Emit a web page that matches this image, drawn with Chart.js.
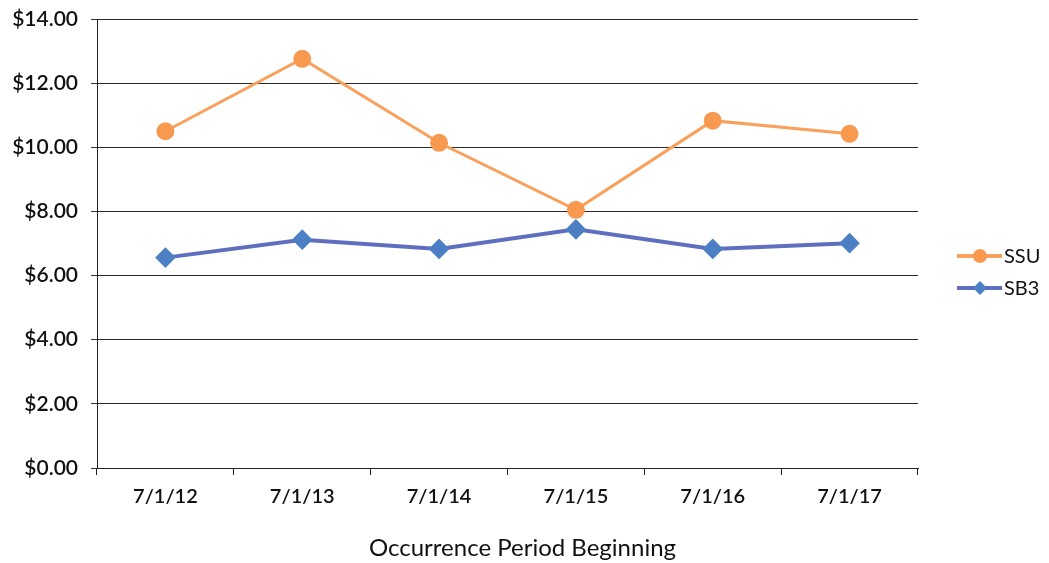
<!DOCTYPE html>
<html>
<head>
<meta charset="utf-8">
<script src="https://cdn.jsdelivr.net/npm/chart.js@4.4.1/dist/chart.umd.min.js"></script>
<style>
  html, body { margin: 0; padding: 0; background: #fff; }
  #wrap { width: 1049px; height: 563px; position: relative; }
</style>
</head>
<body>
<div id="wrap"><canvas id="chart" width="1049" height="563"></canvas></div>
<script>
// 데이터
const categories = ['7/1/12', '7/1/13', '7/1/14', '7/1/15', '7/1/16', '7/1/17'];
const ssuValues = [10.50, 12.76, 10.14, 8.05, 10.83, 10.42];
const sb3Values = [6.56, 7.12, 6.83, 7.44, 6.83, 7.01];
const seriesNames = ['SSU', 'SB3'];
const axisTitle = 'Occurrence Period Beginning';

const FONT = 'Lato, "Open Sans", sans-serif';

// 오른쪽 범례: 선 + 마커
const sideLegend = {
  id: 'sideLegend',
  afterDraw(chart) {
    const ctx = chart.ctx;
    const items = [[256, 0], [288, 1]];
    items.forEach(function (it) {
      const y = it[0];
      const ds = chart.data.datasets[it[1]];
      const mx = 980;
      ctx.save();
      ctx.strokeStyle = ds.borderColor;
      ctx.lineWidth = 4;
      ctx.beginPath();
      ctx.moveTo(957, y);
      ctx.lineTo(1002, y);
      ctx.stroke();
      ctx.fillStyle = ds.pointBackgroundColor;
      ctx.beginPath();
      if (ds.pointStyle === 'rectRot') {
        ctx.moveTo(mx, y - 7);
        ctx.lineTo(mx + 7, y);
        ctx.lineTo(mx, y + 7);
        ctx.lineTo(mx - 7, y);
        ctx.closePath();
      } else {
        ctx.arc(mx, y, 7, 0, Math.PI * 2);
      }
      ctx.fill();
      ctx.fillStyle = '#111';
      ctx.font = '20px ' + FONT;
      ctx.textBaseline = 'middle';
      ctx.fillText(ds.label, 1004, y + 1);
      ctx.restore();
    });
  }
};

const ctx = document.getElementById('chart').getContext('2d');
const chart = new Chart(ctx, {
  type: 'line',
  data: {
    labels: categories,
    datasets: [
      {
        label: seriesNames[0],
        data: ssuValues,
        borderColor: '#F9A15C',
        backgroundColor: '#F9A15C',
        pointBackgroundColor: '#F79A50',
        pointBorderColor: '#F79A50',
        pointStyle: 'circle',
        pointRadius: 7.5,
        borderWidth: 3,
        tension: 0
      },
      {
        label: seriesNames[1],
        data: sb3Values,
        borderColor: '#5F6FC0',
        backgroundColor: '#5F6FC0',
        pointBackgroundColor: '#4C7FC4',
        pointBorderColor: '#4C7FC4',
        pointStyle: 'rectRot',
        pointRadius: 7.5,
        borderWidth: 4,
        tension: 0
      }
    ]
  },
  options: {
    responsive: false,
    animation: false,
    layout: { padding: { left: 0, right: 131, top: 19, bottom: 0 } },
    plugins: {
      legend: { display: false },
      tooltip: { enabled: false }
    },
    scales: {
      x: {
        offset: true,
        grid: {
          offset: true,
          drawOnChartArea: false,
          drawTicks: true,
          tickLength: 7,
          color: '#222',
          lineWidth: 1
        },
        border: { display: true, color: '#222', width: 1 },
        ticks: { color: '#111', font: { family: FONT, size: 20, weight: '600' }, padding: 10, maxRotation: 0 },
        title: {
          display: true,
          // 앞쪽 공백으로 제목을 조금 오른쪽으로 이동
          text: '\u2003\u2002' + axisTitle,
          color: '#111',
          font: { family: FONT, size: 24 },
          padding: { top: 11, bottom: 0 }
        },
        afterFit: function (scale) { scale.height = 95; }
      },
      y: {
        min: 0,
        max: 14,
        ticks: {
          stepSize: 2,
          color: '#111',
          font: { family: FONT, size: 21, weight: '600' },
          padding: 13,
          callback: function (v) { return '$' + Number(v).toFixed(2); }
        },
        grid: { color: '#2a2a2a', lineWidth: 1, tickLength: 6 },
        border: { display: true, color: '#222', width: 1 },
        afterFit: function (scale) {
          scale.width = 97;
          scale.paddingTop = 0;
          scale.paddingBottom = 0;
        }
      }
    }
  },
  plugins: [sideLegend]
});
</script>
</body>
</html>
